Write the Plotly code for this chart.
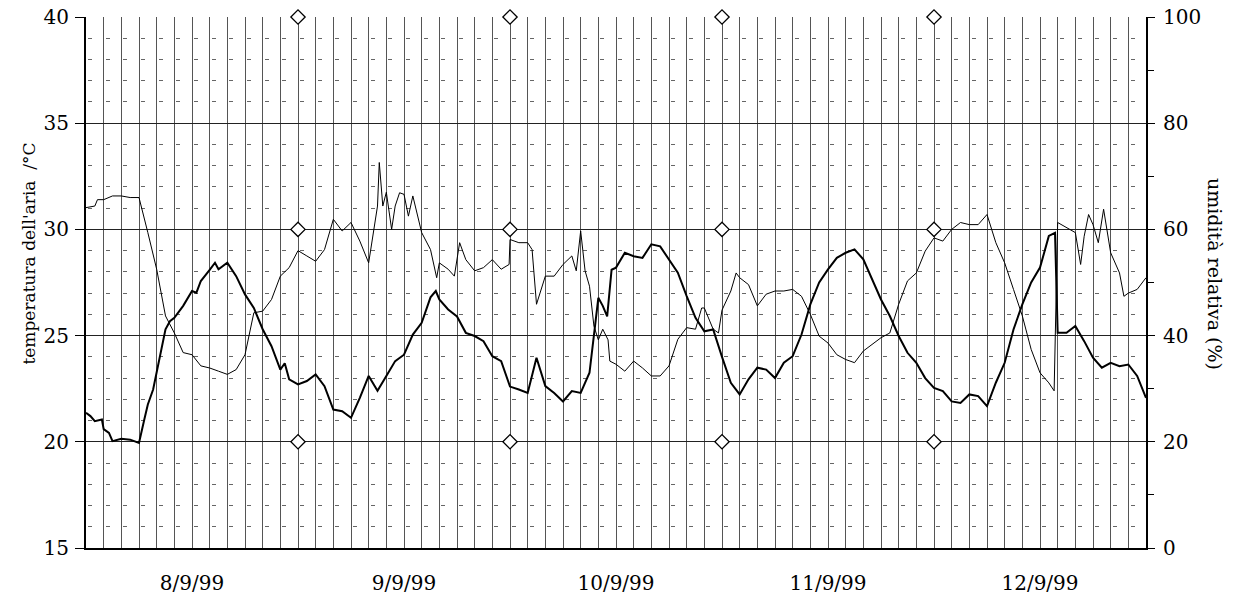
import pandas as pd
import plotly.graph_objects as go

# ---- data (hours from 8/9/99 00:00) ----
temp_hours = [0, 0.5, 1, 1.8, 2, 2.6, 3, 4, 5, 6, 6.6, 7, 7.6, 8, 9, 9.5, 10, 11, 12, 12.5, 13, 14, 14.6, 15, 16, 17, 18, 19, 20, 21, 22, 22.5, 23,
              24, 25, 26, 27, 28, 29, 30, 31, 32, 33, 34, 35, 36, 37, 38, 39, 39.6, 40, 41, 42, 43, 44, 45, 46, 47,
              48, 49, 50, 51, 52, 53, 54, 55, 56, 57, 57.5, 58, 58.5, 59, 59.5, 60, 61, 62, 63, 64, 65, 66, 67, 68, 69, 70, 71,
              72, 73, 74, 75, 76, 77, 78, 79, 80, 81, 82, 83, 84, 85, 86, 87, 88, 89, 90, 91, 92, 93, 94, 95,
              96, 97, 98, 99, 100, 101, 102, 103, 104, 105, 106, 107, 108, 109, 109.7, 110, 111, 112, 113, 114, 115, 116, 117, 118, 119, 120]
temperature = [21.37, 21.21, 20.97, 21.05, 20.6, 20.42, 20.03, 20.14, 20.1, 19.95, 21.05, 21.76, 22.46, 23.25, 25.3, 25.68, 25.84, 26.4, 27.1, 27.02, 27.57, 28.1, 28.43, 28.12, 28.43, 27.8, 26.94, 26.3, 25.3, 24.5, 23.4, 23.7, 22.94,
               22.7, 22.86, 23.17, 22.62, 21.52, 21.44, 21.13, 22.07, 23.1, 22.4, 23.1, 23.8, 24.1, 25.05, 25.6, 26.8, 27.1, 26.7, 26.23, 25.9, 25.13, 24.98, 24.74, 24.03, 23.8,
               22.6, 22.46, 22.3, 23.96, 22.62, 22.3, 21.9, 22.39, 22.3, 23.25, 25.13, 26.78, 26.4, 25.9, 28.1, 28.2, 28.9, 28.74, 28.66, 29.3, 29.2, 28.59, 27.96, 26.86, 25.84, 25.2, 25.29,
               24.0, 22.78, 22.23, 22.94, 23.49, 23.4, 23.0, 23.72, 24.03, 25.05, 26.47, 27.5, 28.12, 28.66, 28.9, 29.06, 28.59, 27.65, 26.7, 25.92, 24.98, 24.19, 23.72, 23.0,
               22.54, 22.39, 21.9, 21.83, 22.23, 22.15, 21.68, 22.78, 23.72, 25.29, 26.47, 27.5, 28.2, 29.69, 29.84, 25.13, 25.13, 25.45, 24.74, 23.96, 23.49, 23.72, 23.56, 23.64, 23.1, 22.07]

hum_hours = [0, 1, 1.3, 2, 3, 4, 5, 6, 7, 8, 9, 10, 11, 12, 13, 14, 15, 16, 17, 18, 19, 20, 21, 22, 23,
             24, 25, 26, 27, 28, 29, 30, 31, 32, 33, 33.2, 33.6, 34, 34.6, 35, 35.5, 36, 36.5, 37, 38, 39, 39.7, 40, 41, 41.7, 42.3, 43, 44, 45, 46, 47, 47.9,
             48, 49, 50, 50.5, 51, 52, 53, 54, 55, 55.5, 56, 56.5, 57, 57.5, 58, 58.5, 59.1, 59.3, 60, 61, 62, 63, 64, 65, 66, 67, 68, 69, 69.7, 70, 71, 71.6,
             72, 73, 73.6, 74, 75, 76, 77, 78, 79, 80, 81, 82, 83, 84, 85, 86, 87, 88, 89, 90, 91, 92, 93, 94, 95,
             96, 97, 98, 99, 100, 101, 102, 103, 104, 105, 106, 107, 108, 109, 109.6, 110, 111, 112, 112.6, 113, 113.5, 114, 114.6, 115.2, 116, 117, 117.5, 118, 119, 120]
humidity = [64.1, 64.4, 65.6, 65.6, 66.3, 66.3, 66.0, 66.0, 59.4, 52.5, 43.7, 40.5, 36.8, 36.4, 34.3, 33.9, 33.3, 32.7, 33.6, 36.4, 44.3, 44.6, 46.8, 51.2, 52.8,
            56.0, 55.0, 54.0, 56.2, 61.9, 59.7, 61.3, 57.8, 53.7, 64.4, 72.6, 64.4, 67.0, 60.0, 64.4, 66.9, 66.6, 62.5, 66.3, 59.4, 56.2, 50.9, 53.7, 52.5, 51.2, 57.5, 54.3, 52.2, 52.8, 54.3, 52.5, 53.4,
            58.1, 57.5, 57.5, 56.2, 45.9, 51.2, 51.2, 53.4, 55.0, 52.2, 59.7, 52.2, 49.3, 41.8, 39.2, 41.2, 39.2, 35.2, 34.6, 33.3, 35.2, 33.9, 32.4, 32.4, 34.3, 39.3, 41.5, 41.2, 45.2, 45.2, 41.2, 40.5,
            44.8, 48.4, 51.8, 50.9, 49.6, 45.6, 47.8, 48.4, 48.4, 48.7, 47.4, 44.0, 39.9, 38.6, 36.4, 35.5, 34.9, 37.1, 38.3, 39.6, 40.5, 45.9, 50.3, 51.8, 55.9,
            58.4, 57.8, 60.0, 61.3, 60.9, 60.9, 62.8, 57.5, 53.7, 48.7, 43.7, 37.4, 33.0, 31.1, 29.6, 61.3, 60.3, 59.4, 53.4, 58.7, 62.8, 60.9, 57.5, 63.8, 55.6, 51.8, 47.4, 48.0, 48.7, 50.9]

day_labels = ["8/9/99", "9/9/99", "10/9/99", "11/9/99", "12/9/99"]
marker_hours = [24, 48, 72, 96]
marker_levels = [20, 30, 40]

start = pd.Timestamp("1999-09-08 00:00")
def to_time(hours):
    return [start + pd.Timedelta(hours=h) for h in hours]

FONT = "DejaVu Serif"

fig = go.Figure()

mx, my = [], []
for lev in marker_levels:
    for h in marker_hours:
        mx.append(start + pd.Timedelta(hours=h))
        my.append(lev)

fig.add_trace(go.Scatter(x=to_time(hum_hours), y=humidity, mode="lines",
                         line=dict(color="black", width=1), yaxis="y2", showlegend=False))
fig.add_trace(go.Scatter(x=to_time(temp_hours), y=temperature, mode="lines",
                         line=dict(color="black", width=2), showlegend=False))
fig.add_trace(go.Scatter(x=mx, y=my, mode="markers", cliponaxis=False,
                         marker=dict(symbol="diamond", size=11, color="white",
                                     line=dict(color="black", width=1.3)),
                         showlegend=False))

tick_noons = [start + pd.Timedelta(hours=12 + 24 * i) for i in range(len(day_labels))]

fig.update_layout(
    width=1244, height=604,
    autosize=False,
    margin=dict(l=86, r=98, t=17, b=56, pad=0, autoexpand=False),
    paper_bgcolor="white", plot_bgcolor="white",
    font=dict(family=FONT, size=20, color="black"),
    xaxis=dict(
        automargin=False,
        range=[start, start + pd.Timedelta(hours=120)],
        tickmode="array", tickvals=tick_noons, ticktext=day_labels,
        ticks="", showgrid=False, zeroline=False,
        showline=True, linecolor="black", linewidth=2,
        ticklabelstandoff=16,
        minor=dict(dtick=2 * 3600 * 1000, tick0=start, showgrid=True,
                   gridcolor="#555555", gridwidth=1, ticks=""),
    ),
    yaxis=dict(
        automargin=False,
        range=[15, 40], tickmode="linear", tick0=15, dtick=5,
        ticks="outside", ticklen=9, tickcolor="black", tickwidth=1,
        showgrid=True, gridcolor="#222222", gridwidth=1, zeroline=False,
        showline=True, linecolor="black", linewidth=2,
        ticklabelstandoff=2, ticklabeloverflow="allow",
        minor=dict(dtick=1, showgrid=True, gridcolor="#666666", gridwidth=1,
                   griddash="0px,2px,4px,11.67px", ticks=""),
    ),
    yaxis2=dict(
        automargin=False,
        range=[0, 100], tickmode="linear", tick0=0, dtick=20,
        overlaying="y", side="right",
        ticks="outside", ticklen=7, tickcolor="black", tickwidth=1,
        showgrid=False, zeroline=False,
        showline=True, linecolor="black", linewidth=2,
        ticklabelstandoff=4, ticklabeloverflow="allow",
        minor=dict(dtick=10, ticks="outside", ticklen=6, tickcolor="black", showgrid=False),
    ),
    annotations=[
        dict(text="temperatura dell'aria  /°C", xref="paper", yref="paper",
             x=-0.0547, y=0.5546, xanchor="center", yanchor="middle", textangle=-90,
             showarrow=False, font=dict(family=FONT, size=17)),
        dict(text="umidità relativa (%)", xref="paper", yref="paper",
             x=1.0651, y=0.516, xanchor="center", yanchor="middle", textangle=90,
             showarrow=False, font=dict(family=FONT, size=19)),
    ],
)

fig.write_html("out.html", config={"displayModeBar": False},
               post_script="document.body.style.margin='0px';")
